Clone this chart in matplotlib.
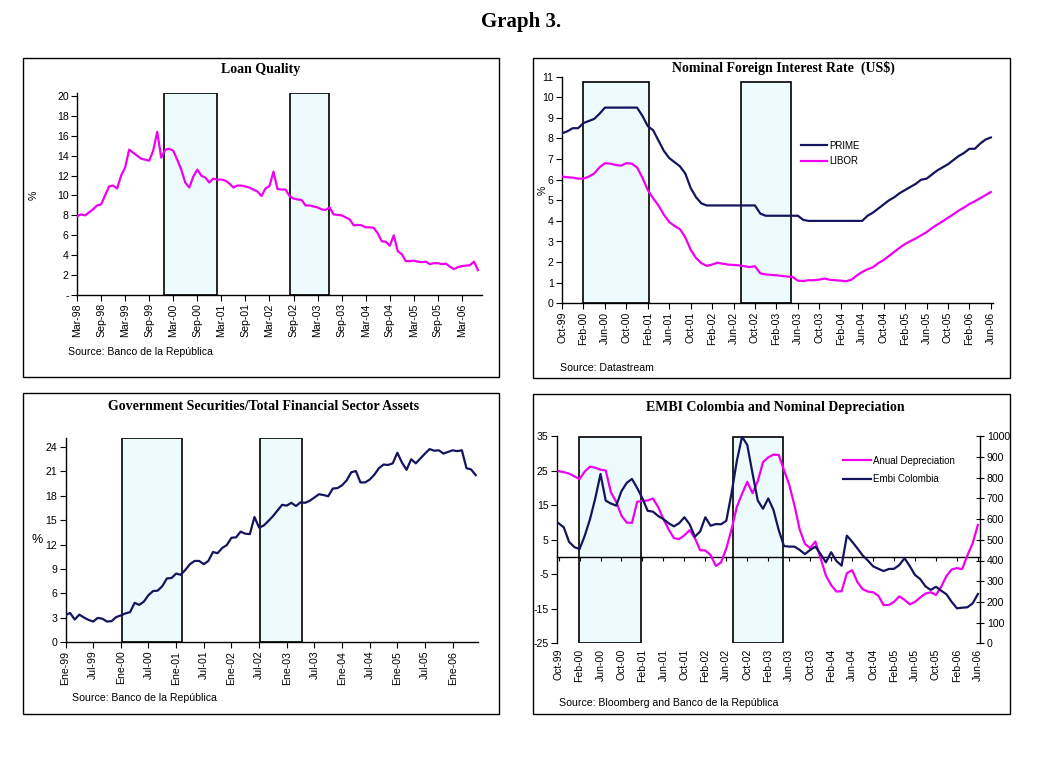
import numpy as np
import pandas as pd
import matplotlib
matplotlib.use("Agg")
import matplotlib.pyplot as plt
from matplotlib.patches import Rectangle

plt.rcParams['font.family'] = ['Liberation Sans', 'DejaVu Sans']
plt.rcParams['axes.linewidth'] = 1.0
plt.rcParams['axes.unicode_minus'] = False

# ---------------- data (monthly) ----------------
# Loan quality, %, Mar-98 .. Jul-06
loan_quality = [
    7.9, 8.1, 8.0, 8.3, 8.6, 9.0, 9.1, 10.0, 10.9, 11.0,
    10.7, 12.0, 12.8, 14.6, 14.3, 14.0, 13.7, 13.6, 13.5, 14.5,
    16.4, 13.8, 14.6, 14.7, 14.5, 13.6, 12.6, 11.3, 10.8, 11.9,
    12.6, 12.0, 11.8, 11.3, 11.7, 11.6, 11.6, 11.5, 11.2, 10.8,
    11.0, 11.0, 10.9, 10.8, 10.6, 10.4, 9.95, 10.7, 10.95, 12.4,
    10.65, 10.6, 10.6, 9.95, 9.7, 9.6, 9.55, 9.0, 9.0, 8.9,
    8.8, 8.6, 8.55, 8.8, 8.1, 8.05, 8.0, 7.8, 7.6, 7.0,
    7.05, 7.0, 6.8, 6.8, 6.75, 6.2, 5.4, 5.35, 4.95, 6.0,
    4.4, 4.1, 3.4, 3.4, 3.45, 3.35, 3.3, 3.35, 3.1, 3.2,
    3.2, 3.1, 3.15, 2.85, 2.6, 2.8, 2.9, 2.95, 3.0, 3.35,
    2.5]
loan_start = '1998-03'

# Nominal foreign interest rates, %, Oct-99 .. Jun-06
prime = [
    8.25, 8.35, 8.5, 8.5, 8.75, 8.85, 8.95, 9.2, 9.5, 9.5,
    9.5, 9.5, 9.5, 9.5, 9.5, 9.1, 8.6, 8.4, 7.9, 7.4,
    7.05, 6.85, 6.65, 6.3, 5.6, 5.15, 4.85, 4.75, 4.75, 4.75,
    4.75, 4.75, 4.75, 4.75, 4.75, 4.75, 4.75, 4.35, 4.25, 4.25,
    4.25, 4.25, 4.25, 4.25, 4.25, 4.05, 4.0, 4.0, 4.0, 4.0,
    4.0, 4.0, 4.0, 4.0, 4.0, 4.0, 4.0, 4.25, 4.4, 4.6,
    4.8, 5.0, 5.15, 5.35, 5.5, 5.65, 5.8, 6.0, 6.05, 6.25,
    6.45, 6.6, 6.75, 6.95, 7.15, 7.3, 7.5, 7.5, 7.75, 7.95,
    8.05]
libor = [
    6.15, 6.12, 6.1, 6.05, 6.05, 6.15, 6.3, 6.6, 6.8, 6.78,
    6.72, 6.68, 6.8, 6.78, 6.6, 6.1, 5.5, 5.1, 4.75, 4.3,
    3.95, 3.75, 3.6, 3.2, 2.6, 2.2, 1.95, 1.82, 1.88, 1.97,
    1.92, 1.88, 1.86, 1.84, 1.8, 1.76, 1.8, 1.45, 1.4, 1.38,
    1.36, 1.33, 1.3, 1.28, 1.1, 1.08, 1.12, 1.12, 1.15, 1.2,
    1.14, 1.12, 1.1, 1.07, 1.15, 1.35, 1.52, 1.65, 1.75, 1.95,
    2.1, 2.3, 2.5, 2.7, 2.88, 3.02, 3.15, 3.3, 3.45, 3.65,
    3.82, 3.98, 4.15, 4.32, 4.5, 4.65, 4.82, 4.95, 5.1, 5.25,
    5.4]
rates_start = '1999-10'

# Government securities / total financial sector assets, %, Ene-99 .. Jun-06
gov_securities = [
    3.35, 3.6, 2.8, 3.4, 3.05, 2.75, 2.55, 3.0, 2.9, 2.55,
    2.6, 3.1, 3.3, 3.55, 3.7, 4.85, 4.6, 5.0, 5.8, 6.3,
    6.35, 6.9, 7.85, 7.9, 8.45, 8.3, 8.9, 9.6, 10.0, 10.0,
    9.6, 10.0, 11.1, 10.95, 11.6, 11.95, 12.85, 12.9, 13.6, 13.35,
    13.3, 15.4, 14.1, 14.35, 14.9, 15.5, 16.2, 16.9, 16.8, 17.15,
    16.75, 17.2, 17.15, 17.4, 17.8, 18.2, 18.1, 17.95, 18.9, 18.95,
    19.3, 19.9, 20.9, 21.05, 19.65, 19.65, 20.0, 20.6, 21.4, 21.85,
    21.8, 22.0, 23.3, 22.1, 21.2, 22.5, 22.0, 22.6, 23.2, 23.75,
    23.55, 23.6, 23.2, 23.4, 23.6, 23.5, 23.6, 21.4, 21.25, 20.55]
gov_start = '1999-01'

# Annual depreciation (%) and EMBI Colombia (bp), Oct-99 .. Jun-06
depreciation = [
    24.9, 24.6, 24.2, 23.4, 22.6, 24.8, 26.2, 25.9, 25.3, 25.1,
    18.7, 16.0, 12.0, 10.0, 9.9, 16.0, 16.3, 16.4, 17.0, 14.5,
    11.0, 8.0, 5.5, 5.2, 6.3, 7.8, 5.5, 2.0, 1.9, 0.6,
    -2.6, -1.5, 2.5, 8.0, 14.5, 18.3, 21.8, 18.5, 22.0, 27.5,
    28.9, 29.7, 29.6, 25.2, 21.0, 15.0, 8.0, 3.8, 2.6, 4.5,
    -0.4, -5.4, -8.1, -10.0, -9.9, -4.7, -3.8, -7.2, -9.3, -10.0,
    -10.2, -11.2, -13.9, -13.9, -13.0, -11.4, -12.4, -13.7, -13.0, -11.7,
    -10.6, -10.2, -11.0, -8.6, -5.5, -3.6, -3.2, -3.5, 0.5, 4.0,
    9.3]
embi = [
    580, 560, 490, 465, 455, 520, 600, 700, 818, 689,
    675, 665, 735, 775, 794, 750, 700, 640, 636, 615,
    600, 580, 565, 580, 609, 575, 515, 540, 609, 568,
    576, 575, 592, 725, 880, 998, 958, 821, 690, 650,
    700, 644, 547, 470, 467, 467, 451, 431, 451, 467,
    431, 391, 440, 398, 375, 520, 491, 459, 425, 400,
    372, 360, 349, 359, 360, 378, 411, 373, 330, 310,
    275, 258, 273, 254, 237, 200, 169, 172, 174, 193,
    238]
embi_start = '1999-10'

# shaded periods (in months from each panel's first observation)
loan_shade = [(21.8, 34.8), (53.0, 62.8)]
rates_shade = [(3.85, 16.2), (33.3, 42.8)]
gov_shade = [(12.2, 25.2), (42.1, 51.3)]
embi_shade = [(3.9, 15.8), (33.35, 42.9)]

# ---------------- styling ----------------
W, H = 1043, 763
MAGENTA = '#F000F0'
NAVY = '#14145F'
SHADE = '#EEFBFD'
TICK_FS = 7.6
SERIF = ['Liberation Serif', 'DejaVu Serif']
SPANISH = {1: 'Ene', 7: 'Jul'}

fig = plt.figure(figsize=(W / 100, H / 100), dpi=100)
fig.patch.set_facecolor('white')


def px_axes(l, t, r, b):
    return fig.add_axes([l / W, 1 - b / H, (r - l) / W, (b - t) / H])


def px_text(x, y, s, **kw):
    fig.text(x / W, 1 - y / H, s, **kw)


def frame(l, t, r, b):
    fig.add_artist(Rectangle((l / W, 1 - b / H), (r - l) / W, (b - t) / H,
                             transform=fig.transFigure, fill=False,
                             ec='black', lw=1.0))


def month_ticks(start, n, step, spanish=False):
    per = pd.period_range(start, periods=n, freq='M')
    pos = list(range(0, n, step))
    labels = []
    for i in pos:
        p = per[i]
        name = SPANISH.get(p.month, p.strftime('%b')) if spanish else p.strftime('%b')
        labels.append(f"{name}-{p.strftime('%y')}")
    return pos, labels


def shade(ax, periods, top, bottom):
    for a, b in periods:
        ax.add_patch(Rectangle((a, bottom), b - a, top - bottom, fc=SHADE,
                               ec='black', lw=1.2, zorder=1))


def basic(ax):
    for s in ('top', 'right'):
        ax.spines[s].set_visible(False)
    ax.tick_params(axis='both', direction='out', length=4, width=0.8,
                   labelsize=TICK_FS, pad=2)
    ax.set_facecolor('none')


px_text(521, 22, 'Graph 3.', ha='center', va='center', fontsize=15,
        fontweight='bold', family=SERIF)

# ---------------- panel 1: loan quality ----------------
frame(23, 57.5, 499, 376.5)
ax1 = px_axes(77, 93, 482, 295)
basic(ax1)
x1 = np.arange(len(loan_quality))
ax1.plot(x1, loan_quality, color=MAGENTA, lw=1.6, zorder=3)
shade(ax1, loan_shade, 20.3, 0)
ax1.set_xlim(0, 101)
ax1.set_ylim(0, 20.3)
ax1.set_yticks(np.arange(0, 21, 2))
ax1.set_yticklabels(['-'] + [str(v) for v in range(2, 21, 2)])
pos, lab = month_ticks(loan_start, len(loan_quality), 6)
ax1.set_xticks(pos)
ax1.set_xticklabels(lab, rotation=90)
px_text(261, 70, 'Loan Quality', ha='center', va='center', fontsize=10,
        fontweight='bold', family=SERIF)
px_text(34, 195, '%', ha='center', va='center', fontsize=TICK_FS, rotation=90)
px_text(68, 352, 'Source: Banco de la República', ha='left', va='center',
        fontsize=TICK_FS)

# ---------------- panel 2: nominal foreign interest rate ----------------
frame(533, 57.5, 1010, 377.5)
ax2 = px_axes(562, 76.7, 993, 303.3)
basic(ax2)
x2 = np.arange(len(prime))
ax2.plot(x2, prime, color=NAVY, lw=1.6, zorder=3, label='PRIME')
ax2.plot(x2, libor, color=MAGENTA, lw=1.6, zorder=3, label='LIBOR')
shade(ax2, rates_shade, 10.73, 0)
ax2.set_xlim(0, 80.4)
ax2.set_ylim(0, 11)
ax2.set_yticks(np.arange(0, 12, 1))
pos, lab = month_ticks(rates_start, len(prime), 4)
ax2.set_xticks(pos)
ax2.set_xticklabels(lab, rotation=90)
ax2.legend(loc='upper left', bbox_to_anchor=(0.554, 0.718), frameon=False,
           fontsize=7, handlelength=2.7, handletextpad=0.2, borderpad=0,
           borderaxespad=0, labelspacing=0.55)
px_text(783, 67.5, 'Nominal Foreign Interest Rate  (US$)', ha='center',
        va='center', fontsize=10, fontweight='bold', family=SERIF)
px_text(543, 190, '%', ha='center', va='center', fontsize=TICK_FS, rotation=90)
px_text(560, 368, 'Source: Datastream', ha='left', va='center', fontsize=TICK_FS)

# ---------------- panel 3: government securities ----------------
frame(23, 392.5, 499, 714)
ax3 = px_axes(65.5, 437.7, 478, 642.3)
basic(ax3)
x3 = np.arange(len(gov_securities))
ax3.plot(x3, gov_securities, color=NAVY, lw=1.6, zorder=3)
shade(ax3, gov_shade, 25.15, 0)
ax3.set_xlim(0, 89.5)
ax3.set_ylim(0, 25.15)
ax3.set_yticks(np.arange(0, 25, 3))
pos, lab = month_ticks(gov_start, len(gov_securities), 6, spanish=True)
ax3.set_xticks(pos)
ax3.set_xticklabels(lab, rotation=90)
px_text(264, 406, 'Government Securities/Total Financial Sector Assets',
        ha='center', va='center', fontsize=10, fontweight='bold', family=SERIF)
px_text(37, 540, '%', ha='center', va='center', fontsize=9)
px_text(72, 698, 'Source: Banco de la República', ha='left', va='center',
        fontsize=TICK_FS)

# ---------------- panel 4: EMBI and depreciation ----------------
frame(533, 394, 1010, 713.5)
ax4 = px_axes(557, 436.3, 980, 643.3)
ax4.set_facecolor('none')
x4 = np.arange(len(depreciation))
shade(ax4, embi_shade, 34.7, -25)
l_dep, = ax4.plot(x4, depreciation, color=MAGENTA, lw=1.6, zorder=3,
                  label='Anual Depreciation')
ax4.set_xlim(-0.3, 80.4)
ax4.set_ylim(-25, 35)
ax4.set_yticks(np.arange(-25, 36, 10))
ax4.spines['top'].set_visible(False)
ax4.spines['right'].set_visible(False)
ax4.spines['bottom'].set_position(('data', 0))
pos, lab = month_ticks(embi_start, len(depreciation), 4)
ax4.set_xticks(pos)
ax4.tick_params(axis='x', direction='out', length=3, width=0.8,
                labelbottom=False)
ax4.tick_params(axis='y', direction='out', length=4, width=0.8,
                labelsize=TICK_FS, pad=2)
sec = ax4.secondary_xaxis('bottom')
sec.set_xticks(pos)
sec.set_xticklabels(lab, rotation=90)
sec.spines['bottom'].set_visible(False)
sec.tick_params(length=0, labelsize=TICK_FS, pad=4)

ax4r = ax4.twinx()
l_embi, = ax4r.plot(x4, embi, color=NAVY, lw=1.6, zorder=3,
                    label='Embi Colombia')
ax4r.set_ylim(0, 1000)
ax4r.set_yticks(np.arange(0, 1001, 100))
for s in ('top', 'bottom', 'left'):
    ax4r.spines[s].set_visible(False)
ax4r.tick_params(axis='y', direction='inout', length=6, width=0.8,
                 labelsize=TICK_FS, pad=2)
ax4r.legend(handles=[l_dep, l_embi], loc='upper left',
            bbox_to_anchor=(0.677, 0.906), frameon=False, fontsize=7,
            handlelength=2.8, handletextpad=0.2, borderpad=0,
            borderaxespad=0, labelspacing=0.85)
px_text(775, 407, 'EMBI Colombia and Nominal Depreciation', ha='center',
        va='center', fontsize=10, fontweight='bold', family=SERIF)
px_text(559, 703, 'Source: Bloomberg and Banco de la República', ha='left',
        va='center', fontsize=TICK_FS)

fig.savefig('out.png', dpi=100, facecolor='white')
